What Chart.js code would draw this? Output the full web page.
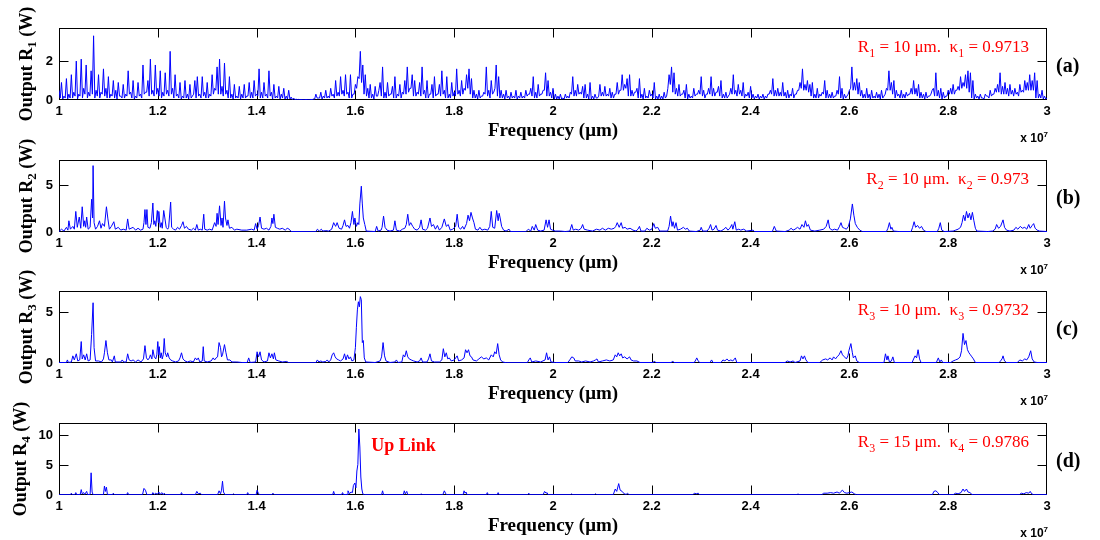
<!DOCTYPE html>
<html lang="en">
<head>
<meta charset="UTF-8">
<title>Output R1 - R4 versus frequency</title>
<script src="https://cdn.jsdelivr.net/npm/chart.js"></script>
<style>
  html, body { margin: 0; padding: 0; background: #fff; overflow: hidden; }
  #wrap { position: relative; width: 1100px; height: 540px; }
  .panel { position: absolute; left: 0; width: 1100px; height: 150px; }
</style>
</head>
<body>
<div id="wrap">
  <div class="panel" style="top:0px"><canvas id="pa" width="1100" height="150"></canvas></div>
  <div class="panel" style="top:132px"><canvas id="pb" width="1100" height="150"></canvas></div>
  <div class="panel" style="top:263px"><canvas id="pc" width="1100" height="150"></canvas></div>
  <div class="panel" style="top:395px"><canvas id="pd" width="1100" height="150"></canvas></div>
</div>
<script>
// frequency axis (x 10^7)
const xTicks = [1, 1.2, 1.4, 1.6, 1.8, 2, 2.2, 2.4, 2.6, 2.8, 3];
const xTickLabels = ['1', '1.2', '1.4', '1.6', '1.8', '2', '2.2', '2.4', '2.6', '2.8', '3'];

// panel (a): peaks sampled every 0.005 from 1 to 3
const powerA = [
  0.5,0.9,0.2,1.1,0.3,1.3,0.4,2.0,0.3,2.1,0.6,1.8,0.4,1.5,3.3,0.5,1.3,0.4,1.6,0.6,1.2,
  0.3,1.0,0.5,0.9,0.2,0.8,0.3,1.5,0.4,1.0,0.2,0.9,0.3,1.8,0.4,1.0,2.1,0.5,1.8,0.6,
  1.5,0.4,1.4,0.5,2.5,0.6,1.3,0.3,0.9,0.2,1.0,0.3,0.8,0.2,1.0,1.2,0.3,1.2,0.4,0.9,
  0.3,1.3,0.6,1.7,2.1,0.7,1.9,0.5,1.2,0.3,0.8,0.2,0.7,0.3,0.8,0.2,0.9,0.4,1.0,0.3,
  1.6,0.4,0.9,0.3,1.5,0.4,0.8,0.2,0.7,0.3,0.6,0.2,0.5,0.15,0.1,0.04,0.03,0.02,0.02,0.02,
  0.02,0.03,0.05,0.3,0.1,0.4,0.2,0.5,0.2,0.6,0.3,1.0,0.4,1.2,0.5,1.3,0.4,1.3,0.3,0.8,
  1.2,2.5,1.8,1.3,0.6,0.8,0.3,0.7,0.2,0.9,1.7,0.4,0.9,0.3,0.7,1.2,0.3,0.8,0.4,1.0,
  1.7,0.6,1.3,1.0,0.4,0.9,1.7,0.5,1.0,0.3,0.8,1.2,0.3,0.8,1.5,0.5,1.2,0.3,0.9,0.4,
  1.6,0.5,1.0,0.6,1.3,1.6,1.1,0.5,0.3,0.5,0.2,0.4,1.7,0.5,1.0,0.4,1.8,1.2,0.5,0.3,
  0.5,0.2,0.4,0.2,0.5,0.2,0.4,0.2,0.5,0.3,0.6,1.2,0.4,0.8,0.3,0.5,1.4,1.0,0.4,0.6,
  0.3,0.2,0.3,0.1,0.3,0.2,0.4,1.2,0.5,0.8,0.4,0.7,0.8,0.3,0.9,0.2,0.3,0.1,0.8,0.4,
  0.7,0.3,0.6,0.4,0.3,0.9,0.5,1.3,0.8,1.1,1.3,0.5,0.4,0.6,1.1,0.3,0.6,0.2,0.5,0.3,
  0.9,0.2,0.3,0.2,0.4,0.2,1.3,1.7,1.4,0.6,0.8,0.3,0.5,0.8,0.3,0.2,0.6,0.3,0.5,1.2,
  0.5,0.3,0.6,1.2,0.6,0.4,0.7,1.0,0.3,0.4,0.2,0.6,1.3,0.5,0.8,0.5,0.9,0.3,0.4,0.7,
  0.3,0.2,0.3,0.2,0.3,0.2,0.3,0.5,1.1,0.5,0.6,0.4,0.9,0.4,0.5,0.3,0.6,0.3,0.5,0.9,
  1.6,0.8,1.0,0.8,0.9,0.3,0.6,0.3,0.4,1.0,0.5,0.3,0.4,0.2,0.5,1.2,0.6,0.3,0.2,0.5,
  1.7,0.9,1.1,0.9,0.5,0.3,0.6,0.3,0.5,0.2,0.4,0.3,0.5,0.2,0.6,1.5,0.9,1.0,0.5,0.3,
  0.5,0.3,0.4,0.3,0.6,1.0,0.6,0.8,0.4,0.3,0.4,0.2,0.3,0.6,1.4,0.5,0.6,0.4,0.2,0.5,
  0.6,0.8,0.5,0.7,1.2,0.9,1.3,1.5,1.4,1.0,0.3,0.2,0.3,0.1,0.3,0.2,0.5,0.3,0.6,0.8,
  1.4,0.7,0.9,0.6,0.8,0.5,0.6,0.4,0.8,0.5,1.0,0.9,1.3,1.0,1.4,1.0,0.3,0.5,0.2,0.1
];
// panel (a): dips read between those samples (one per 0.005 interval)
const floorA = [
  0.1,0.05,0.1,0.05,0.1,0.1,0.2,0.05,0.2,0.1,0.3,0.1,0.2,0.3,0.1,0.2,0.1,0.3,0.2,0.1,
  0.1,0.2,0.1,0.05,0.2,0.1,0.1,0.2,0.3,0.1,0.05,0.1,0.2,0.1,0.3,0.4,0.2,0.3,0.2,0.3,
  0.2,0.1,0.2,0.3,0.2,0.3,0.1,0.2,0.1,0.05,0.1,0.1,0.05,0.1,0.3,0.1,0.2,0.1,0.2,0.1,
  0.1,0.2,0.3,0.5,0.3,0.3,0.2,0.3,0.1,0.1,0.05,0.1,0.1,0.05,0.1,0.1,0.2,0.1,0.1,0.2,
  0.2,0.1,0.1,0.2,0.1,0.2,0.05,0.1,0.1,0.05,0.1,0.05,0.05,0.05,0.02,0.02,0.02,0.02,0.02,0.02,
  0.02,0.02,0.02,0.05,0.1,0.1,0.05,0.1,0.1,0.1,0.2,0.1,0.2,0.2,0.3,0.2,0.3,0.1,0.1,0.3,
  0.6,1.1,0.9,0.3,0.2,0.1,0.1,0.05,0.2,0.5,0.2,0.1,0.1,0.2,0.3,0.1,0.1,0.2,0.1,0.3,
  0.3,0.4,0.6,0.2,0.2,0.3,0.2,0.3,0.1,0.1,0.3,0.1,0.2,0.3,0.2,0.3,0.1,0.1,0.1,0.2,
  0.2,0.3,0.2,0.3,0.5,0.6,0.3,0.1,0.1,0.05,0.1,0.2,0.3,0.2,0.1,0.3,0.6,0.2,0.1,0.1,
  0.05,0.1,0.05,0.1,0.1,0.05,0.1,0.1,0.1,0.2,0.3,0.2,0.1,0.1,0.2,0.3,0.5,0.2,0.2,0.1,
  0.05,0.05,0.05,0.05,0.05,0.1,0.1,0.3,0.2,0.2,0.3,0.3,0.1,0.1,0.05,0.05,0.05,0.1,0.2,0.2,
  0.2,0.2,0.2,0.1,0.1,0.3,0.3,0.5,0.5,0.6,0.2,0.2,0.2,0.4,0.1,0.1,0.05,0.1,0.1,0.2,
  0.1,0.05,0.05,0.05,0.05,0.1,0.6,0.8,0.4,0.3,0.2,0.2,0.3,0.1,0.05,0.1,0.1,0.2,0.3,0.3,
  0.2,0.1,0.3,0.3,0.2,0.2,0.4,0.2,0.1,0.1,0.1,0.3,0.3,0.3,0.2,0.3,0.2,0.1,0.2,0.1,
  0.1,0.05,0.1,0.05,0.1,0.05,0.1,0.3,0.3,0.2,0.2,0.2,0.2,0.2,0.1,0.1,0.2,0.1,0.3,0.5,
  0.6,0.5,0.5,0.4,0.2,0.1,0.1,0.1,0.2,0.3,0.1,0.1,0.1,0.1,0.2,0.3,0.1,0.05,0.1,0.3,
  0.6,0.5,0.5,0.3,0.2,0.1,0.1,0.1,0.05,0.1,0.1,0.1,0.05,0.1,0.3,0.5,0.5,0.3,0.1,0.2,
  0.1,0.1,0.1,0.2,0.3,0.3,0.3,0.2,0.1,0.1,0.05,0.1,0.2,0.5,0.2,0.2,0.1,0.05,0.1,0.2,
  0.3,0.3,0.3,0.5,0.5,0.6,0.7,0.6,0.4,0.1,0.05,0.1,0.05,0.1,0.05,0.2,0.1,0.2,0.3,0.4,
  0.4,0.3,0.3,0.3,0.2,0.3,0.2,0.3,0.2,0.4,0.4,0.5,0.5,0.5,0.5,0.1,0.1,0.1,0.05,0.05
];
const freqA = powerA.map((_, i) => 1 + i * 0.005);

// panel (b)
const freqB = [
  1.000,1.005,1.010,1.015,1.018,1.020,1.023,1.028,1.031,1.034,
  1.037,1.041,1.044,1.047,1.050,1.052,1.054,1.056,1.059,1.063,
  1.066,1.068,1.069,1.071,1.074,1.078,1.082,1.085,1.088,1.092,
  1.096,1.099,1.102,1.106,1.111,1.114,1.120,1.125,1.130,1.136,
  1.139,1.142,1.150,1.155,1.160,1.165,1.170,1.172,1.174,1.176,
  1.178,1.180,1.184,1.187,1.190,1.192,1.194,1.196,1.199,1.201,
  1.202,1.205,1.207,1.209,1.212,1.214,1.217,1.220,1.222,1.226,
  1.228,1.232,1.236,1.240,1.244,1.248,1.251,1.254,1.258,1.262,
  1.268,1.272,1.276,1.279,1.282,1.286,1.290,1.293,1.295,1.300,
  1.305,1.310,1.315,1.318,1.320,1.322,1.325,1.328,1.330,1.332,
  1.335,1.337,1.340,1.342,1.345,1.350,1.355,1.360,1.370,1.380,
  1.390,1.395,1.398,1.401,1.404,1.407,1.410,1.415,1.420,1.425,
  1.429,1.431,1.433,1.435,1.438,1.442,1.447,1.452,1.458,1.462,
  1.466,1.470,1.520,1.523,1.527,1.531,1.534,1.540,1.546,1.552,
  1.556,1.560,1.563,1.567,1.572,1.575,1.578,1.581,1.585,1.588,
  1.591,1.594,1.597,1.599,1.602,1.605,1.607,1.609,1.612,1.614,
  1.616,1.619,1.622,1.640,1.643,1.646,1.652,1.654,1.657,1.660,
  1.664,1.670,1.677,1.680,1.683,1.690,1.695,1.700,1.703,1.706,
  1.709,1.712,1.716,1.720,1.725,1.730,1.733,1.736,1.742,1.746,
  1.751,1.754,1.758,1.762,1.766,1.770,1.775,1.780,1.784,1.788,
  1.792,1.797,1.803,1.806,1.809,1.813,1.817,1.820,1.825,1.828,
  1.831,1.834,1.837,1.840,1.843,1.848,1.852,1.856,1.862,1.868,
  1.872,1.875,1.878,1.882,1.886,1.889,1.891,1.893,1.896,1.900,
  1.905,1.911,1.914,1.945,1.950,1.955,1.958,1.962,1.965,1.969,
  1.975,1.982,1.986,1.989,1.992,1.995,1.999,2.005,2.015,2.025,
  2.034,2.038,2.041,2.046,2.052,2.057,2.060,2.063,2.070,2.080,
  2.088,2.095,2.100,2.106,2.112,2.118,2.124,2.127,2.130,2.134,
  2.138,2.141,2.146,2.150,2.156,2.162,2.168,2.172,2.175,2.178,
  2.186,2.190,2.195,2.200,2.204,2.207,2.212,2.216,2.232,2.235,
  2.238,2.241,2.243,2.246,2.249,2.252,2.258,2.264,2.268,2.272,
  2.276,2.290,2.298,2.300,2.303,2.312,2.316,2.319,2.322,2.326,
  2.330,2.333,2.340,2.346,2.350,2.354,2.358,2.362,2.364,2.368,
  2.371,2.376,2.380,2.386,2.392,2.405,2.408,2.444,2.448,2.452,
  2.470,2.478,2.482,2.486,2.490,2.495,2.500,2.504,2.508,2.511,
  2.514,2.517,2.521,2.530,2.540,2.548,2.553,2.557,2.560,2.565,
  2.570,2.576,2.580,2.583,2.586,2.590,2.594,2.598,2.602,2.606,
  2.609,2.612,2.616,2.621,2.626,2.675,2.678,2.681,2.684,2.686,
  2.689,2.700,2.725,2.728,2.731,2.734,2.738,2.742,2.746,2.750,
  2.755,2.778,2.781,2.784,2.787,2.792,2.810,2.815,2.820,2.825,
  2.828,2.831,2.834,2.837,2.840,2.843,2.846,2.849,2.852,2.855,
  2.858,2.880,2.890,2.895,2.898,2.902,2.906,2.911,2.914,2.918,
  2.925,2.933,2.937,2.941,2.946,2.950,2.955,2.959,2.963,2.966,
  2.970,2.973,2.976,2.980,2.985,3.000
];
const powerB = [
  0.05,0.3,0.1,0.5,0.2,1.2,0.3,0.6,0.3,2.2,
  0.5,1.6,0.4,2.7,0.6,1.2,0.5,1.6,0.3,0.5,
  3.5,1.5,7.1,1.0,0.3,0.6,1.2,0.4,0.9,0.6,
  2.7,1.4,0.3,0.6,1.1,0.3,0.5,0.2,0.3,0.2,
  1.4,0.3,0.5,0.2,0.4,0.2,0.3,1.0,2.4,0.8,
  2.4,0.5,0.4,1.0,3.1,0.8,1.2,0.6,2.3,1.0,
  2.2,0.5,1.0,0.4,2.3,1.6,0.5,0.3,0.5,3.2,
  0.5,0.3,0.2,0.5,0.3,0.7,1.1,0.4,0.6,0.3,
  0.2,0.4,0.2,0.8,0.2,0.3,0.2,1.9,0.3,0.2,
  0.3,0.2,1.0,0.6,2.0,0.8,2.8,0.7,1.5,0.5,
  3.3,1.5,0.7,1.3,0.4,0.5,0.2,0.3,0.2,0.2,
  0.3,0.2,0.9,0.3,0.7,1.6,0.4,0.3,0.4,0.2,
  0.6,1.5,0.9,1.9,0.5,0.4,0.3,0.4,0.2,0.4,
  0.3,0.05,0.03,0.3,0.1,0.3,0.1,0.15,0.1,0.3,
  1.0,0.6,1.0,0.4,0.3,0.7,1.3,0.6,0.7,0.4,
  1.0,2.2,0.8,1.5,0.6,1.0,0.8,3.0,4.9,3.0,
  1.5,0.8,0.1,0.05,0.6,0.1,0.2,0.5,1.7,0.5,
  0.2,0.1,0.2,1.2,0.2,0.1,0.3,0.4,0.8,1.9,
  0.7,1.0,0.6,0.3,0.2,0.5,1.3,0.3,0.2,0.4,
  1.5,0.6,0.8,0.3,0.7,0.2,0.5,1.4,0.6,0.8,
  0.2,0.3,0.6,1.9,0.5,0.3,0.6,0.3,0.9,1.8,
  1.2,2.1,1.5,1.0,0.3,0.2,0.5,0.2,0.3,0.2,
  0.6,2.2,0.5,0.4,2.3,1.2,2.0,1.5,0.6,0.2,
  0.1,0.3,0.05,0.03,0.3,0.1,0.6,0.2,0.8,0.2,
  0.1,0.2,1.3,0.5,1.3,0.3,0.2,0.1,0.1,0.05,
  0.1,0.8,0.2,0.3,0.2,0.4,0.8,0.3,0.2,0.1,
  0.3,0.2,0.4,0.2,0.4,0.3,0.4,0.6,1.0,0.5,
  1.0,0.4,0.5,0.3,0.4,0.2,0.1,0.3,0.6,0.1,
  0.1,0.4,0.2,0.3,0.9,0.4,0.5,0.1,0.1,0.6,
  1.7,0.6,1.1,0.4,1.0,0.2,0.3,0.5,0.3,0.4,
  0.1,0.05,0.2,0.5,0.1,0.1,0.4,0.8,0.2,0.3,
  0.7,0.2,0.1,0.3,0.5,0.2,0.4,0.8,0.3,1.1,
  0.2,0.3,0.2,0.3,0.1,0.2,0.05,0.05,0.6,0.1,
  0.05,0.2,0.4,0.2,0.3,0.5,0.3,0.8,0.5,1.2,
  0.6,0.8,0.2,0.1,0.2,0.3,0.6,1.3,0.4,0.2,
  0.3,0.2,0.6,1.0,0.5,0.4,0.3,0.6,1.4,3.0,
  1.8,0.9,0.5,0.2,0.05,0.05,0.4,1.0,0.3,0.5,
  0.1,0.05,0.05,0.5,1.1,0.5,0.7,0.4,0.6,0.2,
  0.05,0.05,0.4,1.0,0.2,0.05,0.1,0.2,0.3,0.5,
  1.0,1.8,1.2,2.2,1.5,2.0,1.3,2.1,1.2,0.4,
  0.1,0.05,0.1,0.3,0.8,0.4,0.6,1.3,0.5,0.2,
  0.1,0.2,0.5,0.3,0.6,0.4,0.5,0.3,0.8,0.4,
  0.7,0.9,0.4,0.2,0.1,0.05
];

// panel (c)
const freqC = [
  1.000,1.015,1.017,1.019,1.025,1.028,1.031,1.035,1.038,1.042,
  1.045,1.047,1.050,1.053,1.056,1.059,1.063,1.066,1.069,1.071,
  1.074,1.080,1.086,1.090,1.092,1.095,1.098,1.101,1.106,1.108,
  1.112,1.114,1.125,1.128,1.131,1.136,1.139,1.142,1.146,1.150,
  1.155,1.160,1.166,1.171,1.174,1.177,1.180,1.183,1.185,1.188,
  1.190,1.193,1.196,1.198,1.200,1.202,1.203,1.205,1.207,1.209,
  1.211,1.213,1.215,1.218,1.220,1.223,1.226,1.230,1.236,1.242,
  1.245,1.248,1.251,1.255,1.260,1.266,1.272,1.276,1.279,1.282,
  1.285,1.290,1.292,1.294,1.300,1.308,1.312,1.315,1.318,1.321,
  1.324,1.327,1.329,1.331,1.335,1.338,1.341,1.346,1.350,1.360,
  1.370,1.381,1.384,1.387,1.398,1.401,1.404,1.407,1.410,1.415,
  1.422,1.425,1.428,1.431,1.434,1.436,1.439,1.445,1.452,1.461,
  1.465,1.520,1.523,1.526,1.530,1.534,1.540,1.543,1.546,1.550,
  1.553,1.556,1.559,1.562,1.566,1.570,1.575,1.578,1.581,1.584,
  1.587,1.590,1.593,1.597,1.600,1.602,1.604,1.606,1.608,1.610,
  1.612,1.614,1.616,1.618,1.621,1.640,1.650,1.653,1.656,1.659,
  1.662,1.670,1.680,1.683,1.686,1.694,1.697,1.700,1.703,1.706,
  1.709,1.713,1.718,1.725,1.730,1.733,1.736,1.745,1.748,1.751,
  1.754,1.760,1.770,1.775,1.778,1.781,1.784,1.787,1.790,1.794,
  1.800,1.803,1.806,1.809,1.815,1.820,1.823,1.826,1.829,1.832,
  1.835,1.838,1.845,1.850,1.855,1.860,1.865,1.870,1.875,1.879,
  1.882,1.885,1.888,1.891,1.894,1.898,1.905,1.948,1.951,1.954,
  1.957,1.965,1.975,1.984,1.987,1.990,1.993,1.996,2.005,2.030,
  2.034,2.038,2.042,2.045,2.052,2.058,2.066,2.075,2.082,2.086,
  2.089,2.092,2.100,2.108,2.115,2.122,2.126,2.129,2.132,2.135,
  2.138,2.141,2.145,2.150,2.155,2.158,2.163,2.170,2.176,2.203,
  2.205,2.208,2.240,2.242,2.245,2.286,2.289,2.291,2.294,2.297,
  2.318,2.321,2.324,2.340,2.344,2.348,2.352,2.356,2.360,2.364,
  2.369,2.372,2.470,2.474,2.480,2.486,2.490,2.500,2.503,2.506,
  2.509,2.512,2.516,2.540,2.546,2.552,2.556,2.561,2.565,2.568,
  2.572,2.575,2.579,2.583,2.586,2.590,2.594,2.597,2.599,2.603,
  2.606,2.608,2.612,2.615,2.620,2.670,2.673,2.676,2.678,2.681,
  2.685,2.688,2.691,2.727,2.730,2.733,2.736,2.739,2.742,2.745,
  2.776,2.780,2.783,2.786,2.789,2.805,2.810,2.815,2.820,2.824,
  2.827,2.830,2.833,2.836,2.839,2.842,2.845,2.848,2.851,2.855,
  2.903,2.906,2.909,2.911,2.914,2.918,2.940,2.945,2.950,2.955,
  2.959,2.963,2.967,2.970,2.974,2.980,3.000
];
const powerC = [
  0.05,0.05,0.3,0.05,0.1,0.7,0.3,0.9,0.2,0.3,
  2.1,0.4,0.8,0.3,0.9,0.2,0.3,2.8,5.9,1.5,
  0.2,0.2,0.1,0.4,1.0,2.2,1.0,0.3,0.3,0.1,
  0.7,0.1,0.1,0.3,0.1,0.1,0.9,0.3,0.2,0.3,
  0.1,0.3,0.1,0.4,1.7,0.5,0.3,0.5,0.8,0.4,
  1.3,0.6,0.4,0.8,2.1,0.8,1.6,0.5,1.0,0.4,
  0.8,2.4,1.0,0.6,1.0,0.5,0.3,0.2,0.1,0.2,
  0.5,1.0,0.4,0.2,0.1,0.2,0.1,0.5,0.3,0.5,
  0.1,0.2,1.6,0.2,0.1,0.2,0.5,0.3,0.5,0.6,
  2.0,1.5,0.6,0.8,1.8,1.0,0.3,0.3,0.1,0.1,
  0.05,0.05,0.5,0.05,0.1,1.1,0.6,1.1,0.3,0.1,
  0.2,1.0,0.5,0.9,0.4,1.0,0.3,0.2,0.1,0.15,
  0.03,0.03,0.3,0.1,0.2,0.1,0.15,0.3,0.1,0.3,
  0.8,1.0,0.6,0.4,0.3,0.2,0.4,0.9,0.3,0.8,
  0.4,0.6,0.2,0.3,1.5,3.5,5.2,6.0,5.5,6.5,
  6.2,2.0,2.2,0.5,0.1,0.05,0.2,0.6,2.0,0.7,
  0.2,0.05,0.1,0.3,0.05,0.1,0.8,0.6,1.2,0.6,
  0.4,0.3,0.2,0.1,0.2,0.5,0.1,0.1,0.4,0.9,
  0.2,0.1,0.1,0.3,1.4,0.6,1.0,0.4,0.5,0.2,
  0.3,0.5,0.7,0.2,0.3,0.5,1.3,1.0,1.3,0.7,
  0.6,0.3,0.2,0.4,0.6,0.4,0.5,0.3,0.8,0.6,
  1.1,0.9,1.9,0.8,0.3,0.1,0.03,0.03,0.3,0.5,
  0.1,0.2,0.1,0.3,1.0,0.3,0.6,0.1,0.05,0.05,
  0.3,0.6,0.5,0.2,0.2,0.1,0.2,0.1,0.2,0.3,
  0.4,0.1,0.2,0.3,0.2,0.3,0.8,0.6,1.0,0.7,
  0.9,0.5,0.6,0.4,0.6,0.3,0.2,0.2,0.05,0.05,
  0.2,0.05,0.05,0.2,0.05,0.05,0.3,0.5,0.2,0.05,
  0.05,0.3,0.05,0.05,0.3,0.2,0.4,0.2,0.3,0.2,
  0.5,0.05,0.05,0.2,0.1,0.2,0.05,0.2,0.7,0.4,
  0.7,0.3,0.05,0.05,0.3,0.4,0.3,0.5,0.3,0.6,
  0.4,0.6,0.8,1.2,0.8,0.6,0.4,0.7,1.2,1.9,
  1.0,0.5,0.7,0.2,0.05,0.05,0.9,0.3,0.7,0.1,
  0.2,0.6,0.05,0.05,0.4,0.7,0.5,1.3,0.4,0.05,
  0.05,0.5,0.1,0.3,0.05,0.05,0.2,0.3,0.4,0.6,
  1.2,2.9,1.8,2.2,1.3,1.0,0.8,0.6,0.4,0.05,
  0.05,0.2,0.4,0.7,0.2,0.05,0.05,0.3,0.2,0.4,
  0.3,0.6,1.2,0.4,0.1,0.05,0.05
];

// panel (d)
const freqD = [
  1.000,1.023,1.025,1.027,1.032,1.034,1.036,1.043,1.045,1.047,
  1.050,1.052,1.056,1.058,1.063,1.065,1.067,1.069,1.090,1.092,
  1.094,1.096,1.098,1.108,1.110,1.112,1.137,1.139,1.141,1.169,
  1.172,1.175,1.178,1.188,1.190,1.193,1.196,1.199,1.202,1.205,
  1.208,1.211,1.213,1.216,1.246,1.248,1.250,1.276,1.279,1.282,
  1.286,1.289,1.321,1.324,1.327,1.329,1.331,1.333,1.336,1.351,
  1.353,1.355,1.380,1.382,1.384,1.399,1.401,1.404,1.407,1.431,
  1.433,1.436,1.554,1.556,1.558,1.572,1.574,1.576,1.583,1.585,
  1.588,1.591,1.594,1.596,1.599,1.601,1.603,1.605,1.607,1.609,
  1.611,1.613,1.615,1.618,1.653,1.655,1.657,1.697,1.699,1.701,
  1.704,1.706,1.731,1.733,1.735,1.777,1.780,1.783,1.785,1.818,
  1.820,1.822,1.824,1.826,1.865,1.867,1.869,1.887,1.889,1.891,
  1.949,1.951,1.953,1.980,1.983,1.986,1.988,1.990,2.036,2.038,
  2.040,2.084,2.086,2.088,2.122,2.126,2.129,2.133,2.136,2.140,
  2.144,2.148,2.151,2.154,2.283,2.286,2.290,2.294,2.297,2.494,
  2.496,2.498,2.544,2.548,2.555,2.562,2.568,2.575,2.580,2.583,
  2.586,2.590,2.595,2.600,2.605,2.610,2.614,2.768,2.771,2.775,
  2.779,2.782,2.810,2.815,2.820,2.826,2.830,2.833,2.837,2.840,
  2.844,2.848,2.852,2.944,2.948,2.953,2.958,2.963,2.966,2.969,
  2.973,3.000
];
const powerD = [
  0.05,0.05,0.3,0.05,0.05,0.4,0.05,0.1,0.9,0.2,
  0.4,0.1,0.6,0.05,0.1,3.7,0.5,0.05,0.05,1.5,
  0.6,1.3,0.1,0.05,0.3,0.05,0.05,0.4,0.05,0.05,
  1.1,0.8,0.05,0.05,0.4,0.1,0.3,0.1,0.5,0.1,
  0.4,0.05,0.3,0.05,0.05,0.4,0.05,0.05,0.6,0.2,
  0.3,0.05,0.05,0.7,0.2,0.8,2.3,0.5,0.05,0.05,
  0.2,0.05,0.05,0.4,0.05,0.05,0.8,0.2,0.05,0.05,
  0.3,0.05,0.05,0.6,0.05,0.05,0.4,0.05,0.1,0.7,
  0.2,0.5,0.4,1.6,2.0,1.2,4.0,5.1,11.0,8.0,
  3.0,1.0,0.2,0.05,0.05,0.7,0.05,0.05,0.7,0.2,
  0.6,0.05,0.05,0.2,0.05,0.05,0.7,0.2,0.05,0.05,
  0.7,0.3,0.5,0.05,0.05,0.4,0.05,0.05,0.4,0.05,
  0.05,0.3,0.05,0.05,0.6,0.3,0.4,0.05,0.05,0.2,
  0.05,0.05,0.2,0.05,0.05,1.0,0.6,1.9,0.8,0.6,
  0.2,0.1,0.3,0.05,0.05,0.3,0.2,0.3,0.05,0.05,
  0.2,0.05,0.05,0.3,0.3,0.4,0.3,0.5,0.3,0.6,
  0.8,0.4,0.3,0.4,0.5,0.2,0.05,0.05,0.6,0.7,
  0.4,0.05,0.05,0.3,0.2,0.4,1.0,0.6,1.0,0.5,
  0.4,0.1,0.05,0.05,0.3,0.2,0.4,0.3,0.6,0.2,
  0.05,0.05
];

// y ranges and ticks per panel
const yMaxA = 3.7, yMaxB = 7.7, yMaxC = 7.05, yMaxD = 12;
const yTicksA = [0, 2], yTicksB = [0, 5], yTicksC = [0, 5], yTicksD = [0, 5, 10];

const SERIF = '"Liberation Serif", "Times New Roman", serif';
const SANS = '"Liberation Sans", Arial, sans-serif';

// panel (a) points: each sample followed by the dip read after it
function pointsA() {
  const pts = [];
  powerA.forEach((p, i) => {
    pts.push({ x: freqA[i], y: p });
    if (floorA[i] !== undefined) pts.push({ x: freqA[i] + 0.0025, y: floorA[i] });
  });
  return pts;
}

// draws text made of pieces, shift: 0 normal, >0 subscript, <0 superscript
function drawRich(ctx, parts, x, y, align, size, weight) {
  const fam = parts.family || SERIF;
  const fontFor = p => `${weight} ${p[1] ? Math.round(size * 0.7) : size}px ${fam}`;
  let w = 0;
  parts.forEach(p => { ctx.font = fontFor(p); w += ctx.measureText(p[0]).width; });
  let cx = align === 'right' ? x - w : align === 'center' ? x - w / 2 : x;
  ctx.textAlign = 'left';
  parts.forEach(p => {
    ctx.font = fontFor(p);
    ctx.fillText(p[0], cx, y + (p[1] || 0) * size);
    cx += ctx.measureText(p[0]).width;
  });
}

const framePlugin = {
  id: 'frame',
  beforeDatasetsDraw(chart, args, opts) {
    const { ctx, chartArea: a, scales: { x, y } } = chart;
    const L = Math.round(a.left) + 0.5, R = Math.round(a.right) - 0.5;
    const T = Math.round(a.top) + 0.5, B = Math.round(a.bottom) - 0.5;
    ctx.save();
    ctx.strokeStyle = '#000';
    ctx.lineWidth = 1;
    ctx.strokeRect(L, T, R - L, B - T);
    ctx.beginPath();
    xTicks.slice(1, -1).forEach(v => {
      const px = Math.round(x.getPixelForValue(v)) + 0.5;
      ctx.moveTo(px, T); ctx.lineTo(px, T + 9);
      ctx.moveTo(px, B); ctx.lineTo(px, B - 9);
    });
    opts.yTicks.slice(1).forEach(v => {
      const py = Math.round(y.getPixelForValue(v)) + 0.5;
      ctx.moveTo(L, py); ctx.lineTo(L + 9, py);
      ctx.moveTo(R, py); ctx.lineTo(R - 9, py);
    });
    ctx.stroke();
    ctx.restore();
  },
  afterDraw(chart, args, opts) {
    const { ctx, chartArea: a, scales: { x, y } } = chart;
    const midY = (a.top + a.bottom) / 2;
    ctx.save();
    // y axis title, rotated
    ctx.fillStyle = '#000';
    ctx.translate(opts.titleX, midY);
    ctx.rotate(-Math.PI / 2);
    ctx.textBaseline = 'middle';
    drawRich(ctx, [['Output R', 0], [opts.idx, 0.3], [' (W)', 0]], 0, 0, 'center', 18, 'bold');
    ctx.restore();

    ctx.save();
    ctx.textBaseline = 'alphabetic';
    // red parameters
    ctx.fillStyle = '#ff0000';
    drawRich(ctx, opts.note, 1029, a.top + 24, 'right', 17, 'normal');
    if (opts.upLink) {
      ctx.font = `bold 18px ${SERIF}`;
      ctx.textAlign = 'left';
      ctx.fillText('Up Link', x.getPixelForValue(1.632), y.getPixelForValue(7.3));
    }
    // panel letter
    ctx.fillStyle = '#000';
    ctx.font = `bold 20px ${SERIF}`;
    ctx.textAlign = 'left';
    ctx.textBaseline = 'middle';
    ctx.fillText(opts.letter, 1056, midY + 3);
    // exponent of the frequency axis
    ctx.textBaseline = 'alphabetic';
    const exp = [['x 10', 0], ['7', -0.45]];
    exp.family = SANS;
    drawRich(ctx, exp, a.right + 1, a.bottom + 42, 'right', 12, 'bold');
    ctx.restore();
  }
};

function makePanel(id, points, yMax, yTicks, frame) {
  new Chart(document.getElementById(id), {
    type: 'line',
    data: {
      datasets: [{
        data: points,
        borderColor: '#0000ff',
        borderWidth: 1,
        pointRadius: 0,
        tension: 0,
        fill: false
      }]
    },
    options: {
      responsive: false,
      animation: false,
      parsing: false,
      layout: { padding: { top: 28, right: 53, left: 0, bottom: 0 } },
      plugins: { legend: { display: false }, tooltip: { enabled: false }, frame: frame },
      scales: {
        x: {
          type: 'linear', min: 1, max: 3,
          afterBuildTicks: ax => { ax.ticks = xTicks.map(v => ({ value: v })); },
          afterFit: ax => { ax.height = 50; },
          grid: { display: false, drawTicks: false },
          border: { display: false },
          ticks: {
            color: '#000', padding: 4, maxRotation: 0, autoSkip: false,
            font: { family: SANS, weight: 'bold', size: 13 },
            callback: (v, i) => xTickLabels[i]
          },
          title: {
            display: true, text: 'Frequency (μm)', color: '#000',
            font: { family: SERIF, weight: 'bold', size: 19 },
            padding: { top: 0, bottom: 8 }
          }
        },
        y: {
          type: 'linear', min: 0, max: yMax,
          afterBuildTicks: ax => { ax.ticks = yTicks.map(v => ({ value: v })); },
          afterFit: ax => { ax.width = 59; },
          grid: { display: false, drawTicks: false },
          border: { display: false },
          ticks: {
            color: '#000', padding: 6,
            font: { family: SANS, weight: 'bold', size: 13 },
            callback: v => String(v)
          }
        }
      }
    },
    plugins: [framePlugin]
  });
}

const pairs = (xs, ys) => xs.map((f, i) => ({ x: f, y: ys[i] }));

makePanel('pa', pointsA(), yMaxA, yTicksA, {
  yTicks: yTicksA, idx: '1', letter: '(a)', titleX: 27,
  note: [['R', 0], ['1', 0.3], [' = 10 μm.  κ', 0], ['1', 0.3], [' = 0.9713', 0]]
});
makePanel('pb', pairs(freqB, powerB), yMaxB, yTicksB, {
  yTicks: yTicksB, idx: '2', letter: '(b)', titleX: 27,
  note: [['R', 0], ['2', 0.3], [' = 10 μm.  κ', 0], ['2', 0.3], [' = 0.973', 0]]
});
makePanel('pc', pairs(freqC, powerC), yMaxC, yTicksC, {
  yTicks: yTicksC, idx: '3', letter: '(c)', titleX: 27,
  note: [['R', 0], ['3', 0.3], [' = 10 μm.  κ', 0], ['3', 0.3], [' = 0.9732', 0]]
});
makePanel('pd', pairs(freqD, powerD), yMaxD, yTicksD, {
  yTicks: yTicksD, idx: '4', letter: '(d)', titleX: 21, upLink: true,
  note: [['R', 0], ['3', 0.3], [' = 15 μm.  κ', 0], ['4', 0.3], [' = 0.9786', 0]]
});
</script>
</body>
</html>
